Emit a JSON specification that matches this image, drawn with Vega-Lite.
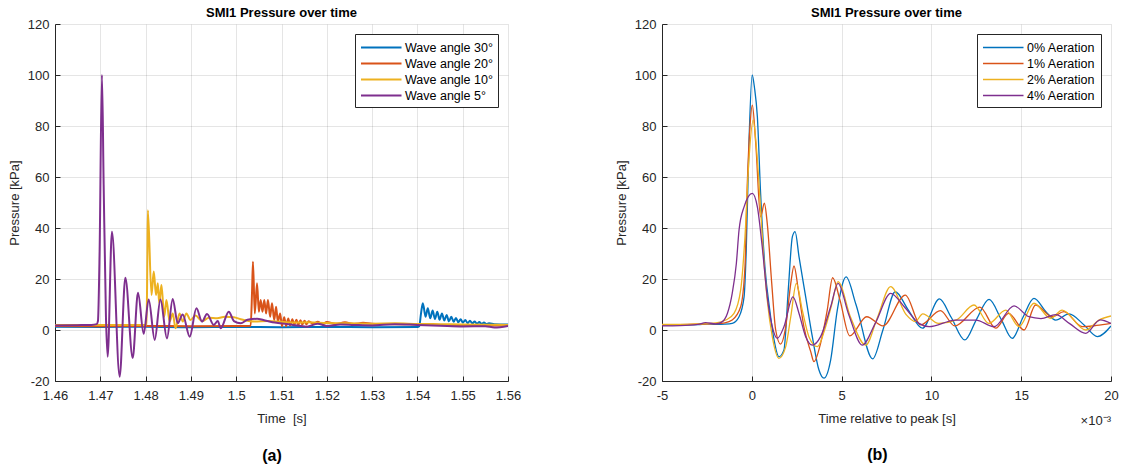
{
  "$schema": "https://vega.github.io/schema/vega-lite/v6.json",
  "padding": {"left": 8, "top": 7, "right": 5, "bottom": 5},
  "spacing": 94,
  "config": {
    "font": "Liberation Sans",
    "view": {"stroke": null},
    "axis": {
      "domainColor": "#262626", "tickColor": "#262626", "labelColor": "#262626", "titleColor": "#262626",
      "labelFontSize": 13, "titleFontSize": 13, "titleFontWeight": "normal", "labelFlush": false,
      "gridColor": "#262626", "gridOpacity": 0.12, "tickSize": -5
    },
    "axisX": {"labelPadding": 13, "titlePadding": 10},
    "axisY": {"labelPadding": 11, "titlePadding": 6},
    "title": {"fontSize": 13, "fontWeight": "bold", "color": "#000000", "offset": -2},
    "legend": {
      "strokeColor": "#262626", "fillColor": "white", "padding": 5, "cornerRadius": 0,
      "labelFontSize": 12.5, "labelColor": "#000000", "rowPadding": 1, "offset": 10
    }
  },
  "datasets": {
    "a": [
      {"t":1.46,"p":1.3,"s":"Wave angle 30°"},{"t":1.47,"p":1.2,"s":"Wave angle 30°"},{"t":1.48,"p":1.3,"s":"Wave angle 30°"},{"t":1.49,"p":1.1,"s":"Wave angle 30°"},{"t":1.50,"p":1.2,"s":"Wave angle 30°"},{"t":1.51,"p":1.1,"s":"Wave angle 30°"},{"t":1.52,"p":1.2,"s":"Wave angle 30°"},{"t":1.53,"p":1.1,"s":"Wave angle 30°"},{"t":1.54,"p":1.2,"s":"Wave angle 30°"},{"t":1.5404,"p":1.5,"s":"Wave angle 30°"},{"t":1.5408,"p":6.5,"s":"Wave angle 30°"},{"t":1.5412,"p":10.5,"s":"Wave angle 30°"},{"t":1.5418,"p":5.2,"s":"Wave angle 30°"},{"t":1.5423,"p":8.5,"s":"Wave angle 30°"},{"t":1.54283,"p":4.6,"s":"Wave angle 30°"},{"t":1.54336,"p":7.6,"s":"Wave angle 30°"},{"t":1.54388,"p":4.3,"s":"Wave angle 30°"},{"t":1.54439,"p":7.2,"s":"Wave angle 30°"},{"t":1.5449,"p":4.0,"s":"Wave angle 30°"},{"t":1.54542,"p":6.5,"s":"Wave angle 30°"},{"t":1.54594,"p":3.7,"s":"Wave angle 30°"},{"t":1.54645,"p":5.9,"s":"Wave angle 30°"},{"t":1.54697,"p":3.4,"s":"Wave angle 30°"},{"t":1.54748,"p":5.2,"s":"Wave angle 30°"},{"t":1.548,"p":3.2,"s":"Wave angle 30°"},{"t":1.54851,"p":4.7,"s":"Wave angle 30°"},{"t":1.54903,"p":3.0,"s":"Wave angle 30°"},{"t":1.54954,"p":4.2,"s":"Wave angle 30°"},{"t":1.55006,"p":2.9,"s":"Wave angle 30°"},{"t":1.55057,"p":3.9,"s":"Wave angle 30°"},{"t":1.55109,"p":2.7,"s":"Wave angle 30°"},{"t":1.5516,"p":3.6,"s":"Wave angle 30°"},{"t":1.55212,"p":2.6,"s":"Wave angle 30°"},{"t":1.55263,"p":3.3,"s":"Wave angle 30°"},{"t":1.55315,"p":2.5,"s":"Wave angle 30°"},{"t":1.55366,"p":3.1,"s":"Wave angle 30°"},{"t":1.55418,"p":2.4,"s":"Wave angle 30°"},{"t":1.5547,"p":2.9,"s":"Wave angle 30°"},{"t":1.5552,"p":2.4,"s":"Wave angle 30°"},{"t":1.5558,"p":2.6,"s":"Wave angle 30°"},{"t":1.557,"p":2.3,"s":"Wave angle 30°"},{"t":1.56,"p":2.2,"s":"Wave angle 30°"},

      {"t":1.46,"p":1.6,"s":"Wave angle 20°"},{"t":1.47,"p":1.5,"s":"Wave angle 20°"},{"t":1.48,"p":1.6,"s":"Wave angle 20°"},{"t":1.49,"p":1.5,"s":"Wave angle 20°"},{"t":1.50,"p":1.6,"s":"Wave angle 20°"},{"t":1.5032,"p":1.7,"s":"Wave angle 20°"},{"t":1.5035,"p":15,"s":"Wave angle 20°"},{"t":1.5037,"p":26.8,"s":"Wave angle 20°"},{"t":1.5041,"p":6.5,"s":"Wave angle 20°"},{"t":1.5046,"p":18.3,"s":"Wave angle 20°"},{"t":1.505,"p":7.2,"s":"Wave angle 20°"},{"t":1.5054,"p":11.8,"s":"Wave angle 20°"},{"t":1.5058,"p":7.2,"s":"Wave angle 20°"},{"t":1.5062,"p":11.8,"s":"Wave angle 20°"},{"t":1.5066,"p":6.5,"s":"Wave angle 20°"},{"t":1.507,"p":11.8,"s":"Wave angle 20°"},{"t":1.5075,"p":5.2,"s":"Wave angle 20°"},{"t":1.5079,"p":10.5,"s":"Wave angle 20°"},{"t":1.5084,"p":3.9,"s":"Wave angle 20°"},{"t":1.5088,"p":9.1,"s":"Wave angle 20°"},{"t":1.5092,"p":3.3,"s":"Wave angle 20°"},{"t":1.5097,"p":6.5,"s":"Wave angle 20°"},{"t":1.5101,"p":1.5,"s":"Wave angle 20°"},{"t":1.5106,"p":5.0,"s":"Wave angle 20°"},{"t":1.511,"p":1.5,"s":"Wave angle 20°"},{"t":1.5115,"p":4.5,"s":"Wave angle 20°"},{"t":1.5119,"p":1.8,"s":"Wave angle 20°"},{"t":1.5124,"p":4.2,"s":"Wave angle 20°"},{"t":1.5128,"p":2.0,"s":"Wave angle 20°"},{"t":1.5133,"p":4.0,"s":"Wave angle 20°"},{"t":1.5137,"p":2.0,"s":"Wave angle 20°"},{"t":1.5142,"p":3.8,"s":"Wave angle 20°"},{"t":1.5146,"p":2.2,"s":"Wave angle 20°"},{"t":1.5151,"p":3.6,"s":"Wave angle 20°"},{"t":1.5155,"p":2.2,"s":"Wave angle 20°"},{"t":1.516,"p":3.4,"s":"Wave angle 20°"},{"t":1.517,"p":2.4,"s":"Wave angle 20°"},{"t":1.518,"p":3.2,"s":"Wave angle 20°"},{"t":1.519,"p":2.3,"s":"Wave angle 20°"},{"t":1.52,"p":3.1,"s":"Wave angle 20°"},{"t":1.522,"p":2.4,"s":"Wave angle 20°"},{"t":1.524,"p":3.0,"s":"Wave angle 20°"},{"t":1.526,"p":2.4,"s":"Wave angle 20°"},{"t":1.528,"p":2.8,"s":"Wave angle 20°"},{"t":1.53,"p":2.5,"s":"Wave angle 20°"},{"t":1.535,"p":2.3,"s":"Wave angle 20°"},{"t":1.54,"p":2.2,"s":"Wave angle 20°"},{"t":1.545,"p":2.0,"s":"Wave angle 20°"},{"t":1.55,"p":1.9,"s":"Wave angle 20°"},{"t":1.555,"p":1.8,"s":"Wave angle 20°"},{"t":1.56,"p":1.8,"s":"Wave angle 20°"},

      {"t":1.46,"p":2.0,"s":"Wave angle 10°"},{"t":1.47,"p":2.0,"s":"Wave angle 10°"},{"t":1.48,"p":2.0,"s":"Wave angle 10°"},{"t":1.4802,"p":2.1,"s":"Wave angle 10°"},{"t":1.4804,"p":30,"s":"Wave angle 10°"},{"t":1.4805,"p":47,"s":"Wave angle 10°"},{"t":1.4813,"p":13.7,"s":"Wave angle 10°"},{"t":1.4818,"p":22.9,"s":"Wave angle 10°"},{"t":1.4823,"p":13.7,"s":"Wave angle 10°"},{"t":1.4827,"p":18.3,"s":"Wave angle 10°"},{"t":1.483,"p":10.5,"s":"Wave angle 10°"},{"t":1.4835,"p":17.6,"s":"Wave angle 10°"},{"t":1.4841,"p":5.2,"s":"Wave angle 10°"},{"t":1.4846,"p":11.8,"s":"Wave angle 10°"},{"t":1.4853,"p":3.3,"s":"Wave angle 10°"},{"t":1.486,"p":6.5,"s":"Wave angle 10°"},{"t":1.4866,"p":0.7,"s":"Wave angle 10°"},{"t":1.4875,"p":6.5,"s":"Wave angle 10°"},{"t":1.4882,"p":3.3,"s":"Wave angle 10°"},{"t":1.489,"p":6.5,"s":"Wave angle 10°"},{"t":1.4899,"p":3.9,"s":"Wave angle 10°"},{"t":1.491,"p":5.7,"s":"Wave angle 10°"},{"t":1.4925,"p":3.5,"s":"Wave angle 10°"},{"t":1.494,"p":4.8,"s":"Wave angle 10°"},{"t":1.4958,"p":4.6,"s":"Wave angle 10°"},{"t":1.4975,"p":5.2,"s":"Wave angle 10°"},{"t":1.4995,"p":5.0,"s":"Wave angle 10°"},{"t":1.501,"p":4.2,"s":"Wave angle 10°"},{"t":1.504,"p":3.3,"s":"Wave angle 10°"},{"t":1.507,"p":3.5,"s":"Wave angle 10°"},{"t":1.51,"p":3.2,"s":"Wave angle 10°"},{"t":1.513,"p":2.9,"s":"Wave angle 10°"},{"t":1.516,"p":3.0,"s":"Wave angle 10°"},{"t":1.52,"p":2.7,"s":"Wave angle 10°"},{"t":1.525,"p":2.6,"s":"Wave angle 10°"},{"t":1.53,"p":2.5,"s":"Wave angle 10°"},{"t":1.535,"p":2.6,"s":"Wave angle 10°"},{"t":1.54,"p":2.4,"s":"Wave angle 10°"},{"t":1.545,"p":2.3,"s":"Wave angle 10°"},{"t":1.55,"p":2.2,"s":"Wave angle 10°"},{"t":1.555,"p":2.1,"s":"Wave angle 10°"},{"t":1.56,"p":2.0,"s":"Wave angle 10°"},

      {"t":1.46,"p":1.8,"s":"Wave angle 5°"},{"t":1.465,"p":1.9,"s":"Wave angle 5°"},{"t":1.468,"p":2.0,"s":"Wave angle 5°"},{"t":1.4692,"p":2.3,"s":"Wave angle 5°"},{"t":1.46948,"p":3.5,"s":"Wave angle 5°"},{"t":1.46985,"p":31,"s":"Wave angle 5°"},{"t":1.47036,"p":100,"s":"Wave angle 5°"},{"t":1.47074,"p":57,"s":"Wave angle 5°"},{"t":1.47125,"p":5,"s":"Wave angle 5°"},{"t":1.47162,"p":-10.5,"s":"Wave angle 5°"},{"t":1.47257,"p":38.5,"s":"Wave angle 5°"},{"t":1.47427,"p":-18.3,"s":"Wave angle 5°"},{"t":1.47553,"p":20.5,"s":"Wave angle 5°"},{"t":1.47715,"p":-11,"s":"Wave angle 5°"},{"t":1.47832,"p":14.6,"s":"Wave angle 5°"},{"t":1.47958,"p":-1.5,"s":"Wave angle 5°"},{"t":1.48068,"p":12,"s":"Wave angle 5°"},{"t":1.48201,"p":-3.9,"s":"Wave angle 5°"},{"t":1.48327,"p":12,"s":"Wave angle 5°"},{"t":1.48472,"p":-3.3,"s":"Wave angle 5°"},{"t":1.48598,"p":12.2,"s":"Wave angle 5°"},{"t":1.48709,"p":2.7,"s":"Wave angle 5°"},{"t":1.48819,"p":6.1,"s":"Wave angle 5°"},{"t":1.48974,"p":-2.6,"s":"Wave angle 5°"},{"t":1.49122,"p":8.5,"s":"Wave angle 5°"},{"t":1.49246,"p":3.3,"s":"Wave angle 5°"},{"t":1.49356,"p":6.3,"s":"Wave angle 5°"},{"t":1.49504,"p":2.0,"s":"Wave angle 5°"},{"t":1.49593,"p":3.5,"s":"Wave angle 5°"},{"t":1.49659,"p":0.7,"s":"Wave angle 5°"},{"t":1.49836,"p":7.2,"s":"Wave angle 5°"},{"t":1.4995,"p":3.5,"s":"Wave angle 5°"},{"t":1.501,"p":2.6,"s":"Wave angle 5°"},{"t":1.5025,"p":4.0,"s":"Wave angle 5°"},{"t":1.5046,"p":4.4,"s":"Wave angle 5°"},{"t":1.506,"p":3.9,"s":"Wave angle 5°"},{"t":1.508,"p":3.0,"s":"Wave angle 5°"},{"t":1.51,"p":2.6,"s":"Wave angle 5°"},{"t":1.5125,"p":2.0,"s":"Wave angle 5°"},{"t":1.5156,"p":1.3,"s":"Wave angle 5°"},{"t":1.518,"p":2.5,"s":"Wave angle 5°"},{"t":1.52,"p":1.6,"s":"Wave angle 5°"},{"t":1.523,"p":2.2,"s":"Wave angle 5°"},{"t":1.526,"p":2.0,"s":"Wave angle 5°"},{"t":1.53,"p":1.8,"s":"Wave angle 5°"},{"t":1.535,"p":2.3,"s":"Wave angle 5°"},{"t":1.54,"p":2.0,"s":"Wave angle 5°"},{"t":1.545,"p":1.7,"s":"Wave angle 5°"},{"t":1.55,"p":1.4,"s":"Wave angle 5°"},{"t":1.555,"p":1.5,"s":"Wave angle 5°"},{"t":1.557,"p":1.0,"s":"Wave angle 5°"},{"t":1.56,"p":1.6,"s":"Wave angle 5°"}
    ],
    "b": [
      {"t":-0.005,"p":2.0,"s":"0% Aeration"},{"t":-0.004,"p":2.0,"s":"0% Aeration"},{"t":-0.003,"p":2.1,"s":"0% Aeration"},{"t":-0.0025,"p":2.4,"s":"0% Aeration"},{"t":-0.002,"p":2.2,"s":"0% Aeration"},{"t":-0.0015,"p":2.3,"s":"0% Aeration"},{"t":-0.00109,"p":2.6,"s":"0% Aeration"},{"t":-0.00071,"p":5.2,"s":"0% Aeration"},{"t":-0.00043,"p":13,"s":"0% Aeration"},{"t":-0.00031,"p":31,"s":"0% Aeration"},{"t":-0.00015,"p":75,"s":"0% Aeration"},{"t":0.00002,"p":100,"s":"0% Aeration"},{"t":0.00015,"p":95,"s":"0% Aeration"},{"t":0.00031,"p":83.6,"s":"0% Aeration"},{"t":0.00049,"p":53.6,"s":"0% Aeration"},{"t":0.00073,"p":24.8,"s":"0% Aeration"},{"t":0.001,"p":7.8,"s":"0% Aeration"},{"t":0.00124,"p":-3.9,"s":"0% Aeration"},{"t":0.00151,"p":-10.5,"s":"0% Aeration"},{"t":0.00179,"p":-7.8,"s":"0% Aeration"},{"t":0.00203,"p":15.7,"s":"0% Aeration"},{"t":0.00226,"p":36.6,"s":"0% Aeration"},{"t":0.00241,"p":38.6,"s":"0% Aeration"},{"t":0.00263,"p":28.7,"s":"0% Aeration"},{"t":0.003,"p":13,"s":"0% Aeration"},{"t":0.00337,"p":-2.6,"s":"0% Aeration"},{"t":0.00374,"p":-15.7,"s":"0% Aeration"},{"t":0.00402,"p":-18.9,"s":"0% Aeration"},{"t":0.00439,"p":-11.8,"s":"0% Aeration"},{"t":0.00476,"p":7.8,"s":"0% Aeration"},{"t":0.00525,"p":20.8,"s":"0% Aeration"},{"t":0.0058,"p":10,"s":"0% Aeration"},{"t":0.00673,"p":-11.3,"s":"0% Aeration"},{"t":0.0073,"p":0,"s":"0% Aeration"},{"t":0.00799,"p":15,"s":"0% Aeration"},{"t":0.0087,"p":8,"s":"0% Aeration"},{"t":0.0095,"p":0.7,"s":"0% Aeration"},{"t":0.01045,"p":12.2,"s":"0% Aeration"},{"t":0.0111,"p":5,"s":"0% Aeration"},{"t":0.01186,"p":-3.9,"s":"0% Aeration"},{"t":0.0125,"p":4,"s":"0% Aeration"},{"t":0.01321,"p":12,"s":"0% Aeration"},{"t":0.0139,"p":4,"s":"0% Aeration"},{"t":0.0145,"p":-3.3,"s":"0% Aeration"},{"t":0.0151,"p":5,"s":"0% Aeration"},{"t":0.01571,"p":12.4,"s":"0% Aeration"},{"t":0.0164,"p":7,"s":"0% Aeration"},{"t":0.01692,"p":3.9,"s":"0% Aeration"},{"t":0.01766,"p":6.3,"s":"0% Aeration"},{"t":0.0185,"p":2,"s":"0% Aeration"},{"t":0.01924,"p":-2.6,"s":"0% Aeration"},{"t":0.02,"p":1.6,"s":"0% Aeration"},

      {"t":-0.005,"p":2.0,"s":"1% Aeration"},{"t":-0.004,"p":2.1,"s":"1% Aeration"},{"t":-0.003,"p":2.3,"s":"1% Aeration"},{"t":-0.002,"p":2.5,"s":"1% Aeration"},{"t":-0.0015,"p":2.8,"s":"1% Aeration"},{"t":-0.00109,"p":3.9,"s":"1% Aeration"},{"t":-0.00062,"p":9.1,"s":"1% Aeration"},{"t":-0.00038,"p":24.8,"s":"1% Aeration"},{"t":-0.00025,"p":57.5,"s":"1% Aeration"},{"t":-0.0001,"p":80,"s":"1% Aeration"},{"t":0.00003,"p":88.2,"s":"1% Aeration"},{"t":0.00022,"p":73.2,"s":"1% Aeration"},{"t":0.00049,"p":44.4,"s":"1% Aeration"},{"t":0.0007,"p":49.7,"s":"1% Aeration"},{"t":0.00086,"p":41.8,"s":"1% Aeration"},{"t":0.00111,"p":18.3,"s":"1% Aeration"},{"t":0.00133,"p":0,"s":"1% Aeration"},{"t":0.0016,"p":-5.5,"s":"1% Aeration"},{"t":0.00189,"p":1.3,"s":"1% Aeration"},{"t":0.00217,"p":18.3,"s":"1% Aeration"},{"t":0.00235,"p":25.1,"s":"1% Aeration"},{"t":0.00259,"p":15.7,"s":"1% Aeration"},{"t":0.0029,"p":1.3,"s":"1% Aeration"},{"t":0.00328,"p":-8.5,"s":"1% Aeration"},{"t":0.00346,"p":-12.4,"s":"1% Aeration"},{"t":0.00383,"p":-5.2,"s":"1% Aeration"},{"t":0.0042,"p":7.8,"s":"1% Aeration"},{"t":0.0045,"p":20.5,"s":"1% Aeration"},{"t":0.0049,"p":12,"s":"1% Aeration"},{"t":0.00545,"p":-2.3,"s":"1% Aeration"},{"t":0.0064,"p":5.2,"s":"1% Aeration"},{"t":0.0073,"p":1.6,"s":"1% Aeration"},{"t":0.00855,"p":13.7,"s":"1% Aeration"},{"t":0.0094,"p":2,"s":"1% Aeration"},{"t":0.0105,"p":7.6,"s":"1% Aeration"},{"t":0.0113,"p":1.6,"s":"1% Aeration"},{"t":0.0127,"p":9,"s":"1% Aeration"},{"t":0.01358,"p":0.7,"s":"1% Aeration"},{"t":0.0143,"p":6.5,"s":"1% Aeration"},{"t":0.01516,"p":0,"s":"1% Aeration"},{"t":0.0158,"p":9.8,"s":"1% Aeration"},{"t":0.01673,"p":5.2,"s":"1% Aeration"},{"t":0.01738,"p":7.2,"s":"1% Aeration"},{"t":0.0184,"p":1.3,"s":"1% Aeration"},{"t":0.0192,"p":1.8,"s":"1% Aeration"},{"t":0.02,"p":2.6,"s":"1% Aeration"},

      {"t":-0.005,"p":2.2,"s":"2% Aeration"},{"t":-0.004,"p":2.2,"s":"2% Aeration"},{"t":-0.003,"p":2.4,"s":"2% Aeration"},{"t":-0.002,"p":2.8,"s":"2% Aeration"},{"t":-0.00145,"p":3.9,"s":"2% Aeration"},{"t":-0.00099,"p":6.5,"s":"2% Aeration"},{"t":-0.00062,"p":15.7,"s":"2% Aeration"},{"t":-0.00038,"p":36.6,"s":"2% Aeration"},{"t":-0.00016,"p":66.7,"s":"2% Aeration"},{"t":0.00008,"p":82.4,"s":"2% Aeration"},{"t":0.00022,"p":74.5,"s":"2% Aeration"},{"t":0.0004,"p":57.5,"s":"2% Aeration"},{"t":0.00062,"p":32.7,"s":"2% Aeration"},{"t":0.00086,"p":11.8,"s":"2% Aeration"},{"t":0.00114,"p":-2.6,"s":"2% Aeration"},{"t":0.00151,"p":-11.1,"s":"2% Aeration"},{"t":0.00189,"p":-6.5,"s":"2% Aeration"},{"t":0.00217,"p":5.2,"s":"2% Aeration"},{"t":0.00248,"p":18.3,"s":"2% Aeration"},{"t":0.00281,"p":7.8,"s":"2% Aeration"},{"t":0.00318,"p":-2.6,"s":"2% Aeration"},{"t":0.00365,"p":-6.5,"s":"2% Aeration"},{"t":0.00411,"p":1.3,"s":"2% Aeration"},{"t":0.00445,"p":10,"s":"2% Aeration"},{"t":0.0048,"p":19,"s":"2% Aeration"},{"t":0.0055,"p":5,"s":"2% Aeration"},{"t":0.00634,"p":-5.9,"s":"2% Aeration"},{"t":0.007,"p":5,"s":"2% Aeration"},{"t":0.00773,"p":17,"s":"2% Aeration"},{"t":0.0086,"p":6,"s":"2% Aeration"},{"t":0.0091,"p":3.3,"s":"2% Aeration"},{"t":0.00952,"p":6.3,"s":"2% Aeration"},{"t":0.0104,"p":2.6,"s":"2% Aeration"},{"t":0.0114,"p":4,"s":"2% Aeration"},{"t":0.01237,"p":9.8,"s":"2% Aeration"},{"t":0.0132,"p":2.6,"s":"2% Aeration"},{"t":0.01414,"p":7.8,"s":"2% Aeration"},{"t":0.01488,"p":1.3,"s":"2% Aeration"},{"t":0.01571,"p":10.5,"s":"2% Aeration"},{"t":0.01664,"p":4.6,"s":"2% Aeration"},{"t":0.01728,"p":7.8,"s":"2% Aeration"},{"t":0.01859,"p":0,"s":"2% Aeration"},{"t":0.01933,"p":3.9,"s":"2% Aeration"},{"t":0.02,"p":5.5,"s":"2% Aeration"},

      {"t":-0.005,"p":1.6,"s":"4% Aeration"},{"t":-0.004,"p":1.7,"s":"4% Aeration"},{"t":-0.003,"p":2.2,"s":"4% Aeration"},{"t":-0.00257,"p":2.9,"s":"4% Aeration"},{"t":-0.002,"p":2.4,"s":"4% Aeration"},{"t":-0.0017,"p":3.0,"s":"4% Aeration"},{"t":-0.00136,"p":6.5,"s":"4% Aeration"},{"t":-0.00109,"p":14.4,"s":"4% Aeration"},{"t":-0.00086,"p":26.1,"s":"4% Aeration"},{"t":-0.00071,"p":39.2,"s":"4% Aeration"},{"t":-0.00043,"p":48.3,"s":"4% Aeration"},{"t":0.00003,"p":53.6,"s":"4% Aeration"},{"t":0.00031,"p":48.3,"s":"4% Aeration"},{"t":0.00058,"p":32.7,"s":"4% Aeration"},{"t":0.00086,"p":13,"s":"4% Aeration"},{"t":0.00114,"p":1.3,"s":"4% Aeration"},{"t":0.00142,"p":-3.3,"s":"4% Aeration"},{"t":0.00179,"p":1.3,"s":"4% Aeration"},{"t":0.00229,"p":13,"s":"4% Aeration"},{"t":0.00263,"p":6.5,"s":"4% Aeration"},{"t":0.003,"p":-2.6,"s":"4% Aeration"},{"t":0.00337,"p":-5.9,"s":"4% Aeration"},{"t":0.00383,"p":-2.6,"s":"4% Aeration"},{"t":0.00439,"p":9.1,"s":"4% Aeration"},{"t":0.0048,"p":18.3,"s":"4% Aeration"},{"t":0.0054,"p":6,"s":"4% Aeration"},{"t":0.00615,"p":-5.9,"s":"4% Aeration"},{"t":0.0069,"p":3,"s":"4% Aeration"},{"t":0.00773,"p":14.4,"s":"4% Aeration"},{"t":0.0085,"p":9,"s":"4% Aeration"},{"t":0.00931,"p":2.6,"s":"4% Aeration"},{"t":0.00987,"p":1.3,"s":"4% Aeration"},{"t":0.01135,"p":3.9,"s":"4% Aeration"},{"t":0.01247,"p":3.9,"s":"4% Aeration"},{"t":0.01349,"p":1.3,"s":"4% Aeration"},{"t":0.0146,"p":9.5,"s":"4% Aeration"},{"t":0.01543,"p":5.2,"s":"4% Aeration"},{"t":0.0161,"p":4.5,"s":"4% Aeration"},{"t":0.01692,"p":6,"s":"4% Aeration"},{"t":0.0177,"p":2.5,"s":"4% Aeration"},{"t":0.01859,"p":-1.3,"s":"4% Aeration"},{"t":0.0194,"p":4,"s":"4% Aeration"},{"t":0.02,"p":2.6,"s":"4% Aeration"}
    ]
  },
  "resolve": {"scale": {"x": "independent", "y": "independent", "color": "independent"}},
  "hconcat": [
    {
      "title": {"text": "(a)", "orient": "bottom", "anchor": "middle", "fontSize": 16, "offset": 23, "dx": 7.5},
      "resolve": {"scale": {"x": "independent", "y": "independent", "color": "independent"}},
      "hconcat": [
        {
          "title": "SMI1 Pressure over time",
          "width": 453, "height": 357,
          "data": {"name": "a"},
          "mark": {"type": "line", "strokeWidth": 2, "interpolate": "monotone", "clip": true},
          "encoding": {
            "x": {"field": "t", "type": "quantitative", "title": "Time\u00a0 [s]",
                  "scale": {"domain": [1.46, 1.56], "nice": false, "zero": false},
                  "axis": {"values": [1.46,1.47,1.48,1.49,1.5,1.51,1.52,1.53,1.54,1.55,1.56], "format": ".3~r"}},
            "y": {"field": "p", "type": "quantitative", "title": "Pressure [kPa]",
                  "scale": {"domain": [-20, 120], "nice": false, "zero": false},
                  "axis": {"values": [-20,0,20,40,60,80,100,120], "labelExpr": "'' + datum.value"}},
            "color": {"field": "s", "type": "nominal",
                      "scale": {"domain": ["Wave angle 30°","Wave angle 20°","Wave angle 10°","Wave angle 5°"],
                                "range": ["#0072BD","#D95319","#EDB120","#7E2F8E"]},
                      "legend": {"title": null, "orient": "top-right", "symbolType": "M-1,0H4.4", "symbolSize": 225,
                                 "symbolStrokeWidth": 2, "labelOffset": 28}}
          }
        }
      ]
    },
    {
      "title": {"text": "(b)", "orient": "bottom", "anchor": "middle", "fontSize": 16, "offset": 19, "dx": 10.7},
      "resolve": {"scale": {"x": "independent", "y": "independent", "color": "independent"}},
      "hconcat": [
        {
          "title": "SMI1 Pressure over time",
          "width": 449, "height": 357,
          "layer": [
            {
              "data": {"name": "b"},
              "mark": {"type": "line", "strokeWidth": 1.3, "interpolate": "monotone", "clip": true},
              "encoding": {
                "x": {"field": "t", "type": "quantitative", "title": "Time relative to peak [s]",
                      "scale": {"domain": [-0.005, 0.02], "nice": false, "zero": false},
                      "axis": {"values": [-0.005,0,0.005,0.01,0.015,0.02], "labelExpr": "'' + round(datum.value*1000)"}},
                "y": {"field": "p", "type": "quantitative", "title": "Pressure [kPa]",
                      "scale": {"domain": [-20, 120], "nice": false, "zero": false},
                      "axis": {"values": [-20,0,20,40,60,80,100,120], "labelExpr": "'' + datum.value"}},
                "color": {"field": "s", "type": "nominal",
                          "scale": {"domain": ["0% Aeration","1% Aeration","2% Aeration","4% Aeration"],
                                    "range": ["#0072BD","#D95319","#EDB120","#7E2F8E"]},
                          "legend": {"title": null, "orient": "top-right", "symbolType": "M-1,0H4.4", "symbolSize": 225,
                                     "symbolStrokeWidth": 1.5, "labelOffset": 28}}
              }
            },
            {
              "data": {"values": [{"label": "×10⁻³"}]},
              "mark": {"type": "text", "align": "right", "baseline": "middle", "dy": 40, "fontSize": 13, "color": "#262626"},
              "encoding": {
                "x": {"datum": 0.02},
                "y": {"datum": -20},
                "text": {"field": "label"}
              }
            }
          ]
        }
      ]
    }
  ]
}
